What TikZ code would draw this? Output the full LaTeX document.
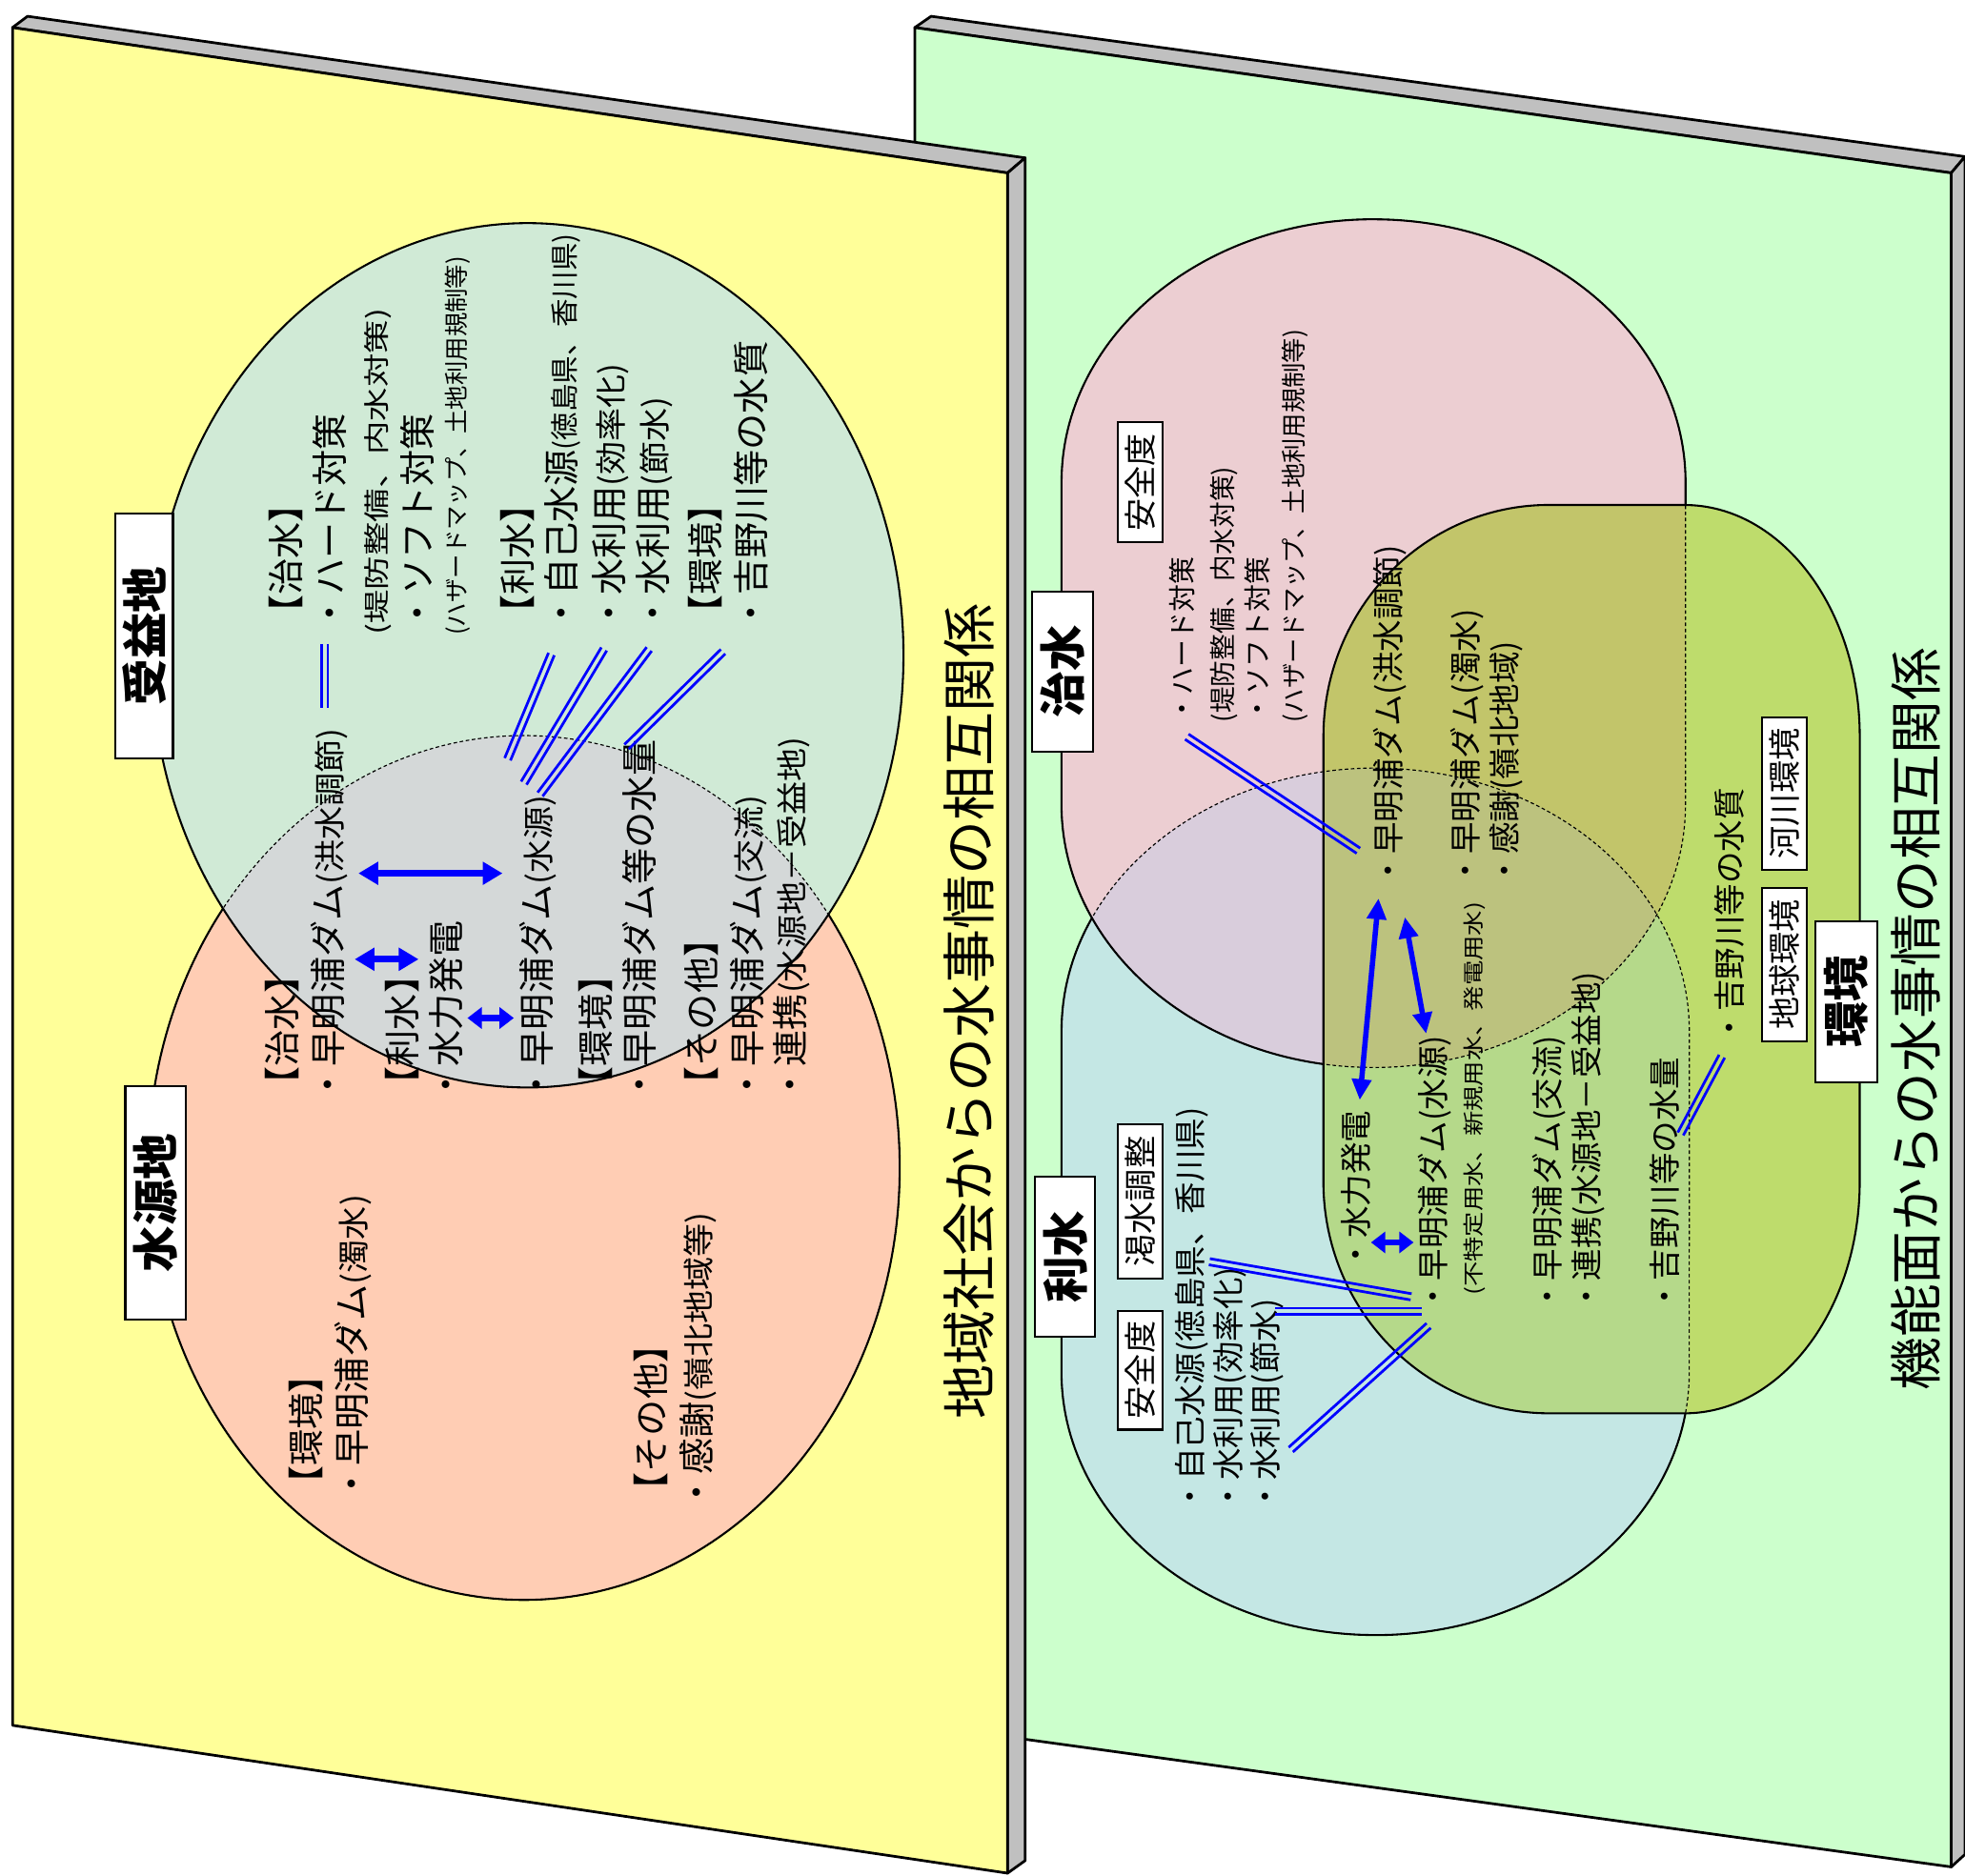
\documentclass[tikz,border=0pt]{standalone}
\usepackage{fontspec}
\usepackage{graphicx}
\setmainfont{Noto Sans CJK JP}
\usetikzlibrary{calc,arrows.meta}
\definecolor{panelY}{HTML}{FFFF99}
\definecolor{panelG}{HTML}{CCFFCC}
\definecolor{edgeG}{HTML}{C0C0C0}
\definecolor{lowerC}{HTML}{FFCDB4}
\definecolor{upperC}{HTML}{D0EAD6}
\definecolor{lensC}{HTML}{D4D8D8}
\definecolor{pinkC}{HTML}{ECCED2}
\definecolor{blueC}{HTML}{C4E7E4}
\definecolor{pbC}{HTML}{D9CDDC}
\definecolor{greenC}{HTML}{BEDC6C}
\definecolor{gpC}{HTML}{C2C56A}
\definecolor{gbC}{HTML}{B5D98A}
\definecolor{gpbC}{HTML}{BCC27E}
\definecolor{lnB}{HTML}{0000FF}
\newcommand\fsz[1]{\fontsize{#1pt}{#1pt}\selectfont}
\newcommand\fL{\fsz{16.5}}
\newcommand\fR{\fsz{14.5}}
\newcommand\lp[1]{\scalebox{1.07}[1]{\fsz{14.2}#1}}
\newcommand\dl[2]{%
  \draw[dbl] ($(#1)!0.05cm!90:(#2)$) -- ($(#2)!0.05cm!-90:(#1)$);
  \draw[dbl] ($(#1)!0.05cm!-90:(#2)$) -- ($(#2)!0.05cm!90:(#1)$);}
\tikzset{
  tx/.style={rotate=90, anchor=west, inner sep=0pt, outer sep=0pt},
  boxl/.style={rotate=90, draw=black, fill=white, line width=0.9pt, inner sep=0pt, font=\bfseries\fsz{21}},
  boxs/.style={rotate=90, draw=black, fill=white, line width=0.9pt, inner sep=0pt, font=\fsz{14.8}, minimum height=0.72cm},
  dbl/.style={lnB, line width=1.2pt},
  bar/.style={lnB, line width=3pt, {Triangle[length=9pt,width=10pt]}-{Triangle[length=9pt,width=10pt]}},
  sbar/.style={lnB, line width=3pt, {Triangle[length=6.5pt,width=9.5pt]}-{Triangle[length=6.5pt,width=9.5pt]}},
  rbar/.style={lnB, line width=2.4pt, {Triangle[length=9.5pt,width=8.5pt]}-{Triangle[length=9.5pt,width=8.5pt]}},
  panel/.style={draw=black, line width=1.2pt, line join=round},
  shp/.style={draw=black, line width=0.9pt},
  dsh/.style={draw=black, line width=0.5pt, dash pattern=on 1.6pt off 1.2pt},
  pinkp/.style={insert path={(847,-385) -- (847,-642) arc[start angle=180,end angle=270,x radius=4.98cm,y radius=4.2cm] -- (1096,-852) arc[start angle=270,end angle=360,x radius=4.98cm,y radius=4.2cm] -- (1345,-385) arc[start angle=0,end angle=90,x radius=4.98cm,y radius=4.2cm] -- (1096,-175) arc[start angle=90,end angle=180,x radius=4.98cm,y radius=4.2cm] -- cycle}},
  bluep/.style={insert path={(847,-823) -- (847,-1095) arc[start angle=180,end angle=270,x radius=5.01cm,y radius=4.2cm] -- (1097.5,-1305) arc[start angle=270,end angle=360,x radius=5.01cm,y radius=4.2cm] -- (1348,-823) arc[start angle=0,end angle=90,x radius=5.01cm,y radius=4.2cm] -- (1097.5,-613) arc[start angle=90,end angle=180,x radius=5.01cm,y radius=4.2cm] -- cycle}},
  greenp/.style={insert path={(1056,-588) -- (1056,-943) arc[start angle=180,end angle=270,x radius=3.6cm,y radius=3.7cm] -- (1344,-1128) arc[start angle=270,end angle=360,x radius=2.8cm,y radius=3.7cm] -- (1484,-588) arc[start angle=0,end angle=90,x radius=2.8cm,y radius=3.7cm] -- (1236,-403) arc[start angle=90,end angle=180,x radius=3.6cm,y radius=3.7cm] -- cycle}},
  upe/.style={insert path={(421,-523) ellipse[x radius=6cm,y radius=6.9cm]}},
  loe/.style={insert path={(418,-932) ellipse[x radius=6cm,y radius=6.9cm]}},
}
\begin{document}
\begin{tikzpicture}[x=0.02cm,y=0.02cm]
\useasboundingbox (0,0) rectangle (1568,-1497);
\fill[white] (0,0) rectangle (1568,-1497);
% ---------- right panel ----------
\path[panel, fill=edgeG] (730,-22) -- (743,-13) -- (1568,-125) -- (1557,-138) -- cycle;
\path[panel, fill=edgeG] (1557,-138) -- (1568,-125) -- (1568,-1480) -- (1557,-1490) -- cycle;
\path[panel, fill=panelG] (730,-22) -- (1557,-138) -- (1557,-1490) -- (730,-1376) -- cycle;
\fill[blueC, bluep]; \draw[shp, bluep];
\fill[pinkC, pinkp];
\begin{scope}\clip[pinkp]; \fill[pbC, bluep];\end{scope}
\draw[shp, pinkp];
\fill[greenC, greenp];
\begin{scope}\clip[greenp]; \fill[gpC, pinkp]; \fill[gbC, bluep]; \clip[pinkp]; \fill[gpbC, bluep];\end{scope}
\draw[shp, greenp];
\draw[dsh, pinkp]; \draw[dsh, bluep];
% ---------- left panel ----------
\path[panel, fill=edgeG] (10,-22) -- (22,-13) -- (818,-126) -- (804,-138) -- cycle;
\path[panel, fill=edgeG] (804,-138) -- (818,-126) -- (818,-1485) -- (804,-1495) -- cycle;
\path[panel, fill=panelY] (10,-22) -- (804,-138) -- (804,-1495) -- (10,-1377) -- cycle;
\fill[lowerC, loe]; \draw[shp, loe];
\fill[upperC, upe];
\begin{scope}\clip[upe]; \fill[lensC, loe];\end{scope}
\draw[shp, upe];
\draw[dsh, loe];
% ---------- left texts ----------
\node[boxl, minimum width=3.9cm, minimum height=0.92cm] (bja) at (115,-507.5) {受益地};
\node[boxl, minimum width=3.72cm, minimum height=0.96cm] (bsg) at (124,-960) {水源地};
\node[tx,font=\fL] (ua) at (228,-504) {【治水】};
\node[tx,font=\fL] (ub) at (263,-504) {・ハード対策};
\node[tx] (uc) at (302,-507) {\scalebox{1.3}[1]{\fsz{11.8}(堤防整備、内水対策)}};
\node[tx,font=\fL] (ud) at (333,-504) {・ソフト対策};
\node[tx,font=\fsz{11}] (ue) at (365,-507) {(ハザードマップ、土地利用規制等)};
\node[tx,font=\fL] (uf) at (413,-504) {【利水】};
\node[tx,font=\fL] (ug) at (449,-504) {・自己水源{\fsz{12.8}(徳島県、香川県)}};
\node[tx,font=\fL] (uh) at (487,-504) {・水利用\lp{(効率化)}};
\node[tx,font=\fL] (ui) at (522,-504) {・水利用\lp{(節水)}};
\node[tx,font=\fL] (uj) at (563,-504) {【環境】};
\node[tx,font=\fL] (uk) at (599,-504) {・吉野川等の水質};
\node[tx,font=\fL] (la) at (225,-880) {【治水】};
\node[tx,font=\fL] (lb) at (263,-880) {・早明浦ダム\lp{(洪水調節)}};
\node[tx,font=\fL] (lc) at (321,-880) {【利水】};
\node[tx,font=\fL] (ld) at (356,-880) {・水力発電};
\node[tx,font=\fL] (le) at (429,-880) {・早明浦ダム\lp{(水源)}};
\node[tx,font=\fL] (lf) at (475,-880) {【環境】};
\node[tx,font=\fL] (lg) at (510,-880) {・早明浦ダム等の水量};
\node[tx,font=\fL] (lh) at (560,-880) {【その他】};
\node[tx,font=\fL] (li) at (597.5,-880) {・早明浦ダム\lp{(交流)}};
\node[tx,font=\fL] (lj) at (632,-880) {・連携\lp{(水源地－受益地)}};
\node[tx,font=\fL] (wa) at (244,-1199) {【環境】};
\node[tx,font=\fL] (wb) at (282,-1199) {・早明浦ダム\lp{(濁水)}};
\node[tx,font=\fL] (wc) at (519,-1204) {【その他】};
\node[tx,font=\fL] (wd) at (557,-1206) {・感謝\lp{(嶺北地域等)}};
\node[rotate=90, font=\fsz{24.7}, inner sep=0pt] (t1) at (773,-807) {地域社会からの水事情の相互関係};
% ---------- right texts ----------
\node[boxl, minimum width=2.56cm, minimum height=0.98cm] (bcs) at (848,-536) {治水};
\node[boxl, minimum width=2.56cm, minimum height=0.96cm] (brs) at (850,-1003) {利水};
\node[boxl, minimum width=2.58cm, minimum height=0.98cm] (bkk) at (1473.4,-799.5) {環境};
\node[boxs, minimum width=1.92cm] (ba1) at (909.7,-385) {安全度};
\node[boxs, minimum width=2.46cm] (bks) at (909.7,-959) {渇水調整};
\node[boxs, minimum width=1.9cm] (ba2) at (909.7,-1093.5) {安全度};
\node[boxs, minimum width=2.44cm] (bkg) at (1424,-633.4) {河川環境};
\node[boxs, minimum width=2.44cm] (bce) at (1424,-770) {地球環境};
\node[tx,font=\fsz{12.5}] (ra) at (943.5,-576.5) {・ハード対策};
\node[tx,font=\fsz{12}] (rb) at (976.6,-576.5) {(堤防整備、内水対策)};
\node[tx,font=\fsz{12.5}] (rc) at (1003.4,-576.5) {・ソフト対策};
\node[tx,font=\fsz{11.4}] (rd) at (1033.4,-576.5) {(ハザードマップ、土地利用規制等)};
\node[tx,font=\fR] (re) at (1109,-707.4) {・早明浦ダム(洪水調節)};
\node[tx,font=\fR] (rf) at (1170.6,-707.4) {・早明浦ダム(濁水)};
\node[tx,font=\fR] (rg) at (1202,-707.4) {・感謝(嶺北地域)};
\node[tx,font=\fR] (rh) at (1082,-1013.7) {・水力発電};
\node[tx,font=\fR] (ri) at (1144.8,-1047.6) {・早明浦ダム(水源)};
\node[tx] (rj) at (1177,-1034) {\scalebox{1.2}[1]{\fsz{9.5}(不特定用水、新規用水、発電用水)}};
\node[tx,font=\fR] (rk) at (1236.5,-1047.6) {・早明浦ダム(交流)};
\node[tx,font=\fR] (rl) at (1267,-1047.6) {・連携(水源地－受益地)};
\node[tx,font=\fR] (rm) at (1328,-1047.6) {・吉野川等の水量};
\node[tx,font=\fR] (rn) at (1380.3,-833) {・吉野川等の水質};
\node[tx,font=\fR] (ro) at (951.3,-1207) {・自己水源(徳島県、香川県)};
\node[tx,font=\fR] (rp) at (981.8,-1207) {・水利用(効率化)};
\node[tx,font=\fR] (rq) at (1010.7,-1207) {・水利用(節水)};
\node[rotate=90, font=\fsz{24.1}, inner sep=0pt] (t2) at (1528.6,-813.5) {機能面からの水事情の相互関係};
% ---------- connectors ----------
\coordinate (d0a) at (259,-514); \coordinate (d0b) at (259,-565);
\coordinate (d1a) at (440,-522); \coordinate (d1b) at (405,-606);
\coordinate (d2a) at (482,-518); \coordinate (d2b) at (418,-625);
\coordinate (d3a) at (518,-518); \coordinate (d3b) at (431,-634);
\coordinate (d4a) at (577,-520); \coordinate (d4b) at (500,-596);
\coordinate (d5a) at (947,-588); \coordinate (d5b) at (1084,-679);
\coordinate (d6a) at (965,-1007); \coordinate (d6b) at (1126,-1035);
\coordinate (d7a) at (1017.5,-1046.5); \coordinate (d7b) at (1134.6,-1046.5);
\coordinate (d8a) at (1030,-1157); \coordinate (d8b) at (1140,-1058);
\coordinate (d9a) at (1374,-843); \coordinate (d9b) at (1341,-905);
\dl{d0a}{d0b}\dl{d1a}{d1b}\dl{d2a}{d2b}\dl{d3a}{d3b}\dl{d4a}{d4b}
\dl{d5a}{d5b}\dl{d6a}{d6b}\dl{d7a}{d7b}\dl{d8a}{d8b}\dl{d9a}{d9b}
\coordinate (a1a) at (286,-697); \coordinate (a1b) at (401,-697);
\coordinate (a2a) at (283,-765.6); \coordinate (a2b) at (334,-765.6);
\coordinate (a3a) at (373,-812.5); \coordinate (a3b) at (410,-812.5);
\coordinate (a4a) at (1100,-717); \coordinate (a4b) at (1085,-878);
\coordinate (a5a) at (1121,-732); \coordinate (a5b) at (1138,-825);
\coordinate (a6a) at (1094,-991.6); \coordinate (a6b) at (1128,-991.6);
\draw[bar] (a1a) -- (a1b);
\draw[bar] (a2a) -- (a2b);
\draw[sbar] (a3a) -- (a3b);
\draw[rbar] (a4a) -- (a4b);
\draw[rbar] (a5a) -- (a5b);
\draw[sbar] (a6a) -- (a6b);
\end{tikzpicture}
\end{document}
